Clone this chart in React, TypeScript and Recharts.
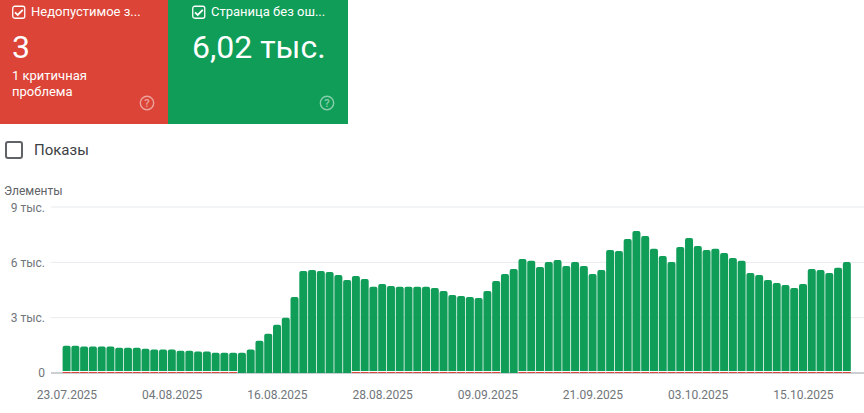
import { Bar, BarChart, CartesianGrid, Rectangle, XAxis, YAxis } from 'recharts';

const dates = [
  '23.07.2025', '24.07.2025', '25.07.2025', '26.07.2025', '27.07.2025', '28.07.2025', '29.07.2025', '30.07.2025', '31.07.2025',
  '01.08.2025', '02.08.2025', '03.08.2025', '04.08.2025', '05.08.2025', '06.08.2025', '07.08.2025', '08.08.2025', '09.08.2025',
  '10.08.2025', '11.08.2025', '12.08.2025', '13.08.2025', '14.08.2025', '15.08.2025', '16.08.2025', '17.08.2025', '18.08.2025',
  '19.08.2025', '20.08.2025', '21.08.2025', '22.08.2025', '23.08.2025', '24.08.2025', '25.08.2025', '26.08.2025', '27.08.2025',
  '28.08.2025', '29.08.2025', '30.08.2025', '31.08.2025', '01.09.2025', '02.09.2025', '03.09.2025', '04.09.2025', '05.09.2025',
  '06.09.2025', '07.09.2025', '08.09.2025', '09.09.2025', '10.09.2025', '11.09.2025', '12.09.2025', '13.09.2025', '14.09.2025',
  '15.09.2025', '16.09.2025', '17.09.2025', '18.09.2025', '19.09.2025', '20.09.2025', '21.09.2025', '22.09.2025', '23.09.2025',
  '24.09.2025', '25.09.2025', '26.09.2025', '27.09.2025', '28.09.2025', '29.09.2025', '30.09.2025', '01.10.2025', '02.10.2025',
  '03.10.2025', '04.10.2025', '05.10.2025', '06.10.2025', '07.10.2025', '08.10.2025', '09.10.2025', '10.10.2025', '11.10.2025',
  '12.10.2025', '13.10.2025', '14.10.2025', '15.10.2025', '16.10.2025', '17.10.2025', '18.10.2025', '19.10.2025', '20.10.2025'
];

// height of each bar
const totals = [
  1480, 1480, 1430, 1430, 1430, 1430, 1370, 1370, 1370, 1320,
  1270, 1270, 1270, 1210, 1210, 1160, 1160, 1100, 1100, 1100,
  1100, 1270, 1750, 2130, 2620, 3000, 4120, 5530, 5590, 5530,
  5480, 5320, 5040, 5260, 5100, 4670, 4830, 4720, 4670, 4670,
  4670, 4670, 4610, 4450, 4230, 4180, 4120, 4070, 4450, 4990,
  5370, 5640, 6180, 6080, 5750, 6020, 6130, 5800, 6020, 5800,
  5370, 5590, 6670, 6620, 7270, 7700, 7430, 6730, 6350, 6020,
  6830, 7320, 6890, 6670, 6730, 6510, 6240, 6080, 5420, 5320,
  5040, 4880, 4770, 4610, 4830, 5640, 5590, 5420, 5700, 6020
];

// the red strip at the foot of the bars, about one pixel where it is present
const invalid = [
  55, 55, 55, 55, 55, 55, 55, 55, 55, 55,
  55, 55, 55, 55, 55, 55, 55, 55, 55, 55,
  0, 0, 0, 0, 0, 0, 0, 0, 0, 0,
  0, 0, 0, 55, 55, 55, 55, 55, 55, 55,
  55, 55, 55, 55, 55, 55, 55, 55, 55, 55,
  0, 0, 55, 55, 55, 55, 55, 55, 55, 55,
  55, 55, 55, 55, 55, 55, 55, 55, 55, 55,
  55, 55, 55, 55, 55, 55, 55, 55, 55, 55,
  55, 55, 55, 55, 55, 55, 55, 55, 55, 55
];

const yTicks = [0, 3000, 6000, 9000];
const yTickLabels: Record<number, string> = { 0: '0', 3000: '3 тыс.', 6000: '6 тыс.', 9000: '9 тыс.' };

const data = dates.map((date, i) => ({
  date,
  invalid: invalid[i],
  valid: totals[i] - invalid[i]
}));

const FONT = 'Roboto, sans-serif';
const GREEN = '#0f9d58';
const RED = '#db4437';

// green bars leave a thin white gap above the red strip
const ValidBar = (props: any) => {
  const gap = props.payload.invalid > 0 ? 1 : 0;
  return <Rectangle {...props} height={props.height - gap} radius={[2, 2, 0, 0]} />;
};

// the lowest grid line doubles as the grey axis, so the bars and the red strip sit over it
const GridLine = (props: any) => {
  const isBase = props.y1 > 170;
  return <line x1={props.x1} x2={props.x2} y1={props.y1} y2={props.y2} stroke={isBase ? '#9aa0a6' : '#e8eaed'} strokeWidth={1} />;
};

const CardCheck = ({ x }: { x: number }) => (
  <svg width={14} height={14} style={{ position: 'absolute', left: x, top: 5 }}>
    <rect x={0.75} y={1.25} width={12} height={12} rx={2} fill="none" stroke="#fff" strokeWidth={1.3} />
    <path d="M3 7.4 L5.7 10 L10.8 4.8" fill="none" stroke="#fff" strokeWidth={1.8} />
  </svg>
);

const HelpIcon = ({ x }: { x: number }) => (
  <svg width={16} height={16} style={{ position: 'absolute', left: x, top: 95 }}>
    <circle cx={8} cy={8} r={6.7} fill="none" stroke="rgba(255,255,255,0.5)" strokeWidth={1.4} />
    <text x={8} y={12} textAnchor="middle" fontSize={11} fontWeight={500} fontFamily={FONT} fill="rgba(255,255,255,0.5)">?</text>
  </svg>
);

const textStyle = (left: number, top: number, size: number, color: string, weight = 400): React.CSSProperties => ({
  position: 'absolute',
  left,
  top,
  fontSize: size,
  color,
  fontWeight: weight,
  whiteSpace: 'nowrap'
});

export default function App() {
  return (
    <div style={{ position: 'absolute', left: 0, top: 0, width: 864, height: 413, background: '#fff', fontFamily: FONT, overflow: 'hidden' }}>
      <style>{'body{margin:0}'}</style>

      <div style={{ position: 'absolute', left: 0, top: 0, width: 168, height: 124, background: RED }}>
        <CardCheck x={12} />
        <div style={textStyle(31, 4, 13, '#fff')}>Недопустимое з...</div>
        <div style={textStyle(12, 28, 32, '#fff')}>3</div>
        <div style={{ ...textStyle(12, 68, 13, '#fff'), lineHeight: '16px' }}>
          1 критичная<br />проблема
        </div>
        <HelpIcon x={139} />
      </div>

      <div style={{ position: 'absolute', left: 168, top: 0, width: 180, height: 124, background: GREEN }}>
        <CardCheck x={24} />
        <div style={textStyle(43, 4, 13, '#fff')}>Страница без ош...</div>
        <div style={textStyle(24, 28, 32, '#fff')}>6,02 тыс.</div>
        <HelpIcon x={151} />
      </div>

      <div style={{ position: 'absolute', left: 5, top: 141, width: 14, height: 14, border: '2px solid #5f6368', borderRadius: 3 }} />
      <div style={textStyle(34, 141, 15, '#3c4043')}>Показы</div>
      <div style={textStyle(4, 184, 12, '#5f6368')}>Элементы</div>

      <div style={{ position: 'absolute', left: 0, top: 200 }}>
        <BarChart
          width={864}
          height={213}
          data={data}
          margin={{ top: 7, right: 0, bottom: 0, left: 0 }}
          barSize={8}
        >
          <CartesianGrid vertical={false} horizontal={GridLine} />
          <XAxis
            dataKey="date"
            interval={11}
            height={40}
            padding={{ left: 11.6, right: 12.4 }}
            tickLine={false}
            axisLine={false}
            tick={{ fill: '#70757a', fontSize: 12, fontFamily: FONT }}
            tickMargin={11}
          />
          <YAxis
            domain={[0, 9000]}
            ticks={yTicks}
            width={51}
            tickLine={false}
            axisLine={false}
            tick={{ fill: '#70757a', fontSize: 12, fontFamily: FONT }}
            tickMargin={0}
            tickFormatter={(value: number) => yTickLabels[value]}
          />
          <Bar dataKey="invalid" stackId="status" fill={RED} isAnimationActive={false} />
          <Bar dataKey="valid" stackId="status" fill={GREEN} shape={ValidBar} isAnimationActive={false} />
        </BarChart>
      </div>
    </div>
  );
}
